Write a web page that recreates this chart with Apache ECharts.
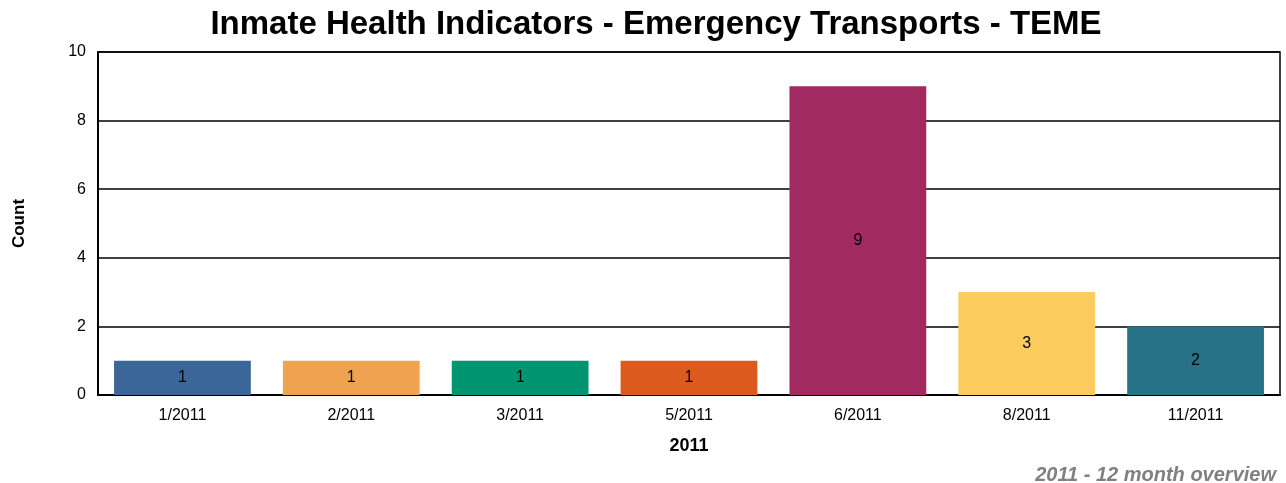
<!DOCTYPE html>
<html>
<head>
<meta charset="UTF-8">
<title>Emergency Transports</title>
<script src="https://cdn.jsdelivr.net/npm/echarts@6/dist/echarts.min.js"></script>
<style>
  body { margin: 0; padding: 0; background: #fff; }
  #app { width: 1286px; height: 483px; }
</style>
</head>
<body>
<div id="app"></div>
<script>
  // values
  var months = ['1/2011', '2/2011', '3/2011', '5/2011', '6/2011', '8/2011', '11/2011'];
  var counts = [1, 1, 1, 1, 9, 3, 2];
  var barColors = ['#3b6699', '#efa351', '#009570', '#dd5a1f', '#a12b60', '#fccd5e', '#277287'];

  var font = '"Liberation Sans", Arial, sans-serif';
  var chart = echarts.init(document.getElementById('app'), null, {renderer: 'canvas'});

  var option = {
    animation: false,
    title: [
      {
        text: 'Inmate Health Indicators - Emergency Transports - TEME',
        left: 651,
        textAlign: 'center',
        top: 3,
        textStyle: {fontFamily: font, fontSize: 33, fontWeight: 'bold', color: '#000'}
      },
      {
        text: '2011 - 12 month overview',
        right: 5,
        top: 460,
        textStyle: {fontFamily: font, fontSize: 20, fontWeight: 'bold', fontStyle: 'italic', color: '#808080'}
      }
    ],
    grid: {left: 98, right: 6, top: 52, bottom: 88, show: true, borderColor: '#000', borderWidth: 1.5},
    xAxis: {
      type: 'category',
      data: months,
      name: '2011',
      nameLocation: 'middle',
      nameGap: 42,
      nameTextStyle: {fontFamily: font, fontSize: 18, fontWeight: 'bold', color: '#000'},
      axisLine: {lineStyle: {color: '#000', width: 2}},
      axisTick: {show: false},
      axisLabel: {fontFamily: font, fontSize: 16, color: '#000', margin: 13}
    },
    yAxis: {
      type: 'value',
      min: 0,
      max: 10,
      interval: 2,
      name: 'Count',
      nameLocation: 'middle',
      nameGap: 70,
      nameTextStyle: {fontFamily: font, fontSize: 17, fontWeight: 'bold', color: '#000'},
      axisLine: {show: true, lineStyle: {color: '#000', width: 2}},
      axisTick: {show: false},
      axisLabel: {fontFamily: font, fontSize: 16, color: '#000', margin: 12},
      splitLine: {lineStyle: {color: '#000', width: 1.5}}
    },
    series: [{
      type: 'bar',
      data: counts.map(function (v, i) {
        return {value: v, itemStyle: {color: barColors[i]}};
      }),
      barCategoryGap: '19%',
      label: {
        show: true,
        position: 'inside',
        fontFamily: font,
        fontSize: 16,
        color: '#000'
      }
    }]
  };
  chart.setOption(option);
</script>
</body>
</html>
